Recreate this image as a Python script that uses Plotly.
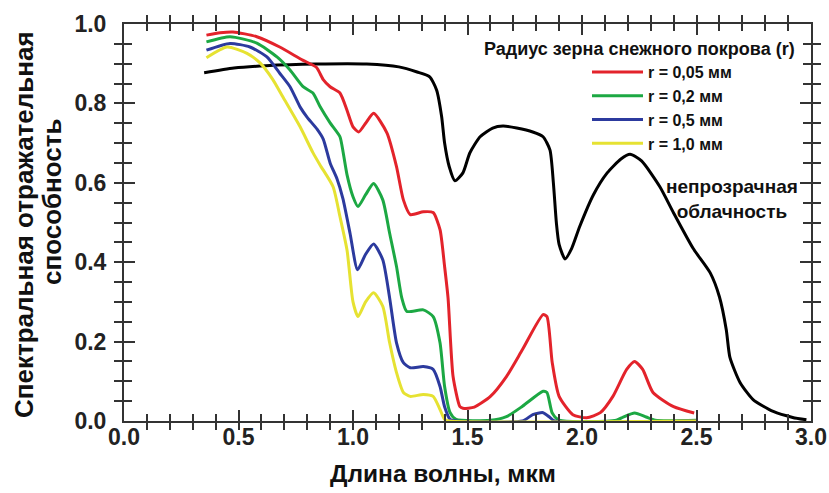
import plotly.graph_objects as go

# Wavelength (µm) and spectral reflectance for each curve
cloud_x = [0.35, 0.48, 0.62, 0.84, 1.06, 1.20, 1.28, 1.335, 1.365, 1.387, 1.40, 1.42, 1.445,
           1.48, 1.51, 1.555, 1.61, 1.655, 1.715, 1.785, 1.83, 1.86, 1.875, 1.888, 1.90, 1.926,
           1.955, 1.99, 2.05, 2.11, 2.17, 2.21, 2.26, 2.34, 2.40, 2.485, 2.56, 2.60, 2.63,
           2.646, 2.69, 2.747, 2.835, 2.92, 2.98]
cloud_y = [0.877, 0.889, 0.895, 0.899, 0.899, 0.892, 0.879, 0.867, 0.834, 0.767, 0.70, 0.641, 0.605,
           0.625, 0.675, 0.716, 0.738, 0.743, 0.738, 0.728, 0.716, 0.683, 0.60, 0.50, 0.445, 0.408,
           0.435, 0.49, 0.57, 0.625, 0.66, 0.672, 0.655, 0.59, 0.524, 0.435, 0.373, 0.313, 0.23,
           0.16, 0.097, 0.054, 0.024, 0.009, 0.003]

r005_x = [0.36, 0.42, 0.476, 0.58, 0.68, 0.78, 0.84, 0.87, 0.90, 0.943, 0.973, 1.0, 1.025, 1.055,
          1.09, 1.148, 1.19, 1.22, 1.25, 1.307, 1.35, 1.38, 1.40, 1.415, 1.437, 1.467, 1.48, 1.53,
          1.60, 1.67, 1.74, 1.83, 1.847, 1.87, 1.90, 1.96, 2.02, 2.08, 2.135, 2.195, 2.23, 2.265,
          2.31, 2.40, 2.49]
r005_y = [0.972, 0.978, 0.980, 0.968, 0.942, 0.909, 0.891, 0.86, 0.842, 0.826, 0.784, 0.741, 0.728, 0.75,
          0.775, 0.726, 0.641, 0.557, 0.52, 0.527, 0.525, 0.482, 0.389, 0.31, 0.112, 0.036, 0.032, 0.035,
          0.062, 0.112, 0.18, 0.268, 0.263, 0.147, 0.062, 0.016, 0.008, 0.021, 0.062, 0.13, 0.15, 0.13,
          0.072, 0.036, 0.02]

r02_x = [0.36, 0.463, 0.58, 0.668, 0.725, 0.782, 0.825, 0.856, 0.90, 0.943, 0.956, 0.974, 1.0, 1.022,
         1.055, 1.09, 1.13, 1.16, 1.19, 1.213, 1.235, 1.307, 1.35, 1.38, 1.40, 1.424, 1.45, 1.60, 1.67,
         1.74, 1.83, 1.847, 1.87, 1.90, 2.15, 2.18, 2.23, 2.28, 2.32, 2.50]
r02_y = [0.955, 0.968, 0.952, 0.917, 0.884, 0.842, 0.826, 0.792, 0.751, 0.716, 0.68, 0.62, 0.565, 0.54,
         0.57, 0.598, 0.557, 0.473, 0.389, 0.31, 0.276, 0.28, 0.263, 0.197, 0.087, 0.021, 0.004, 0.002, 0.011,
         0.037, 0.075, 0.072, 0.02, 0.002, 0.002, 0.01, 0.02, 0.01, 0.002, 0.002]

r05_x = [0.36, 0.463, 0.55, 0.624, 0.68, 0.725, 0.77, 0.80, 0.843, 0.87, 0.90, 0.93, 0.956, 0.987,
         1.02, 1.055, 1.09, 1.13, 1.16, 1.19, 1.22, 1.25, 1.307, 1.35, 1.38, 1.40, 1.424, 1.45, 1.74,
         1.785, 1.83, 1.86, 1.88, 2.50]
r05_y = [0.934, 0.951, 0.942, 0.917, 0.876, 0.842, 0.79, 0.765, 0.735, 0.71, 0.65, 0.61, 0.56, 0.473,
         0.381, 0.42, 0.446, 0.406, 0.31, 0.197, 0.147, 0.134, 0.137, 0.13, 0.087, 0.036, 0.004, 0.0, 0.0,
         0.016, 0.021, 0.009, 0.0, 0.0]

r10_x = [0.36, 0.45, 0.537, 0.594, 0.65, 0.694, 0.769, 0.825, 0.856, 0.913, 0.943, 0.974, 1.0, 1.022,
         1.055, 1.09, 1.13, 1.16, 1.19, 1.22, 1.25, 1.307, 1.35, 1.38, 1.40, 1.42, 2.50]
r10_y = [0.915, 0.942, 0.926, 0.902, 0.86, 0.816, 0.741, 0.676, 0.645, 0.59, 0.515, 0.43, 0.30, 0.263,
         0.30, 0.323, 0.289, 0.197, 0.122, 0.072, 0.062, 0.067, 0.062, 0.029, 0.004, 0.0, 0.0]

series_names = ["r = 0,05 мм", "r = 0,2 мм", "r = 0,5 мм", "r = 1,0 мм"]
series_colors = ["#e3232b", "#1ca843", "#2c3a9e", "#e6e232"]
series_x = [r005_x, r02_x, r05_x, r10_x]
series_y = [r005_y, r02_y, r05_y, r10_y]

X_RANGE = [0, 3.0]
Y_RANGE = [0, 1.0]

FONT = "Liberation Sans, Arial, sans-serif"
INK = "#111111"
AXIS = "#333333"

# plot-area geometry in pixels
L, R, T, B, W, H = 124, 18, 24, 72, 829, 493
PW, PH = W - L - R, H - T - B


def px_x(p):
    return (p - L) / PW


def px_y(p):
    return (H - B - p) / PH


fig = go.Figure()

fig.add_trace(go.Scatter(x=cloud_x, y=cloud_y, mode="lines", showlegend=False,
                         line=dict(color="black", width=3, shape="spline", smoothing=0.6)))

for name, color, xs, ys in zip(series_names, series_colors, series_x, series_y):
    fig.add_trace(go.Scatter(x=xs, y=ys, mode="lines", name=name,
                             line=dict(color=color, width=3, shape="spline", smoothing=0.6)))

# empty traces so that the overlaid tick/label axes get drawn
for xa, ya in [("x2", "y"), ("x", "y2"), ("x", "y3")]:
    fig.add_trace(go.Scatter(x=[], y=[], xaxis=xa, yaxis=ya, mode="lines",
                             showlegend=False, hoverinfo="skip"))

tick_font = dict(family=FONT, size=23, color="#222222", weight="bold")
base = dict(showgrid=False, zeroline=False, automargin=False, tickmode="linear", tick0=0,
            tickcolor=AXIS, tickwidth=2)

fig.update_layout(
    # frame plus short ticks, no labels
    xaxis=dict(range=X_RANGE, dtick=0.1, ticks="inside", ticklen=7, showticklabels=False,
               showline=True, linecolor=AXIS, linewidth=2, mirror="allticks", **base),
    yaxis=dict(range=Y_RANGE, dtick=0.05, ticks="inside", ticklen=8, showticklabels=False,
               showline=True, linecolor=AXIS, linewidth=2, mirror="allticks", **base),
    # long ticks with labels along x
    xaxis2=dict(range=X_RANGE, dtick=0.5, ticks="inside", ticklen=11, mirror="allticks",
                showline=False, overlaying="x", anchor="y", side="bottom",
                tickformat=".1f", tickfont=tick_font, **base),
    # long ticks along y
    yaxis2=dict(range=Y_RANGE, dtick=0.2, ticks="inside", ticklen=11, mirror="allticks",
                showline=False, overlaying="y", anchor="x", side="left",
                showticklabels=False, **base),
    # y labels, set away from the frame by transparent outside ticks
    yaxis3=dict(range=Y_RANGE, dtick=0.2, ticks="outside", ticklen=12,
                showline=False, overlaying="y", anchor="x", side="left",
                tickformat=".1f", tickfont=tick_font,
                **{**base, "tickcolor": "rgba(0,0,0,0)"}),
)

annotations = [
    dict(text="Радиус зерна снежного покрова (r)", x=px_x(797), y=px_y(49), xref="paper", yref="paper",
         xanchor="right", yanchor="middle", showarrow=False,
         font=dict(family=FONT, size=18, color=INK, weight="bold")),
    dict(text="непрозрачная<br>облачность", x=px_x(732), y=px_y(199.5), xref="paper", yref="paper",
         xanchor="center", yanchor="middle", showarrow=False, align="center",
         font=dict(family=FONT, size=19, color=INK, weight="bold")),
    dict(text="Длина волны, мкм", x=px_x(443), y=px_y(473),
         xref="paper", yref="paper", xanchor="center", yanchor="middle", showarrow=False,
         font=dict(family=FONT, size=24.5, color=INK, weight="bold")),
    dict(text="Спектральная отражательная", x=px_x(24), y=px_y(225),
         xref="paper", yref="paper", xanchor="center", yanchor="middle", showarrow=False,
         textangle=-90, font=dict(family=FONT, size=26, color=INK, weight="bold")),
    dict(text="способность", x=px_x(52), y=px_y(202),
         xref="paper", yref="paper", xanchor="center", yanchor="middle", showarrow=False,
         textangle=-90, font=dict(family=FONT, size=26, color=INK, weight="bold")),
]

fig.update_layout(
    template="none",
    width=W, height=H,
    margin=dict(l=L, r=R, t=T, b=B, pad=0),
    paper_bgcolor="white", plot_bgcolor="white",
    annotations=annotations,
    showlegend=True,
    legend=dict(x=px_x(587), y=px_y(55), xanchor="left", yanchor="top",
                bgcolor="rgba(0,0,0,0)", borderwidth=0, tracegroupgap=0, itemwidth=51,
                font=dict(family=FONT, size=16, color=INK, weight="bold")),
)

fig.write_html("out.html")
